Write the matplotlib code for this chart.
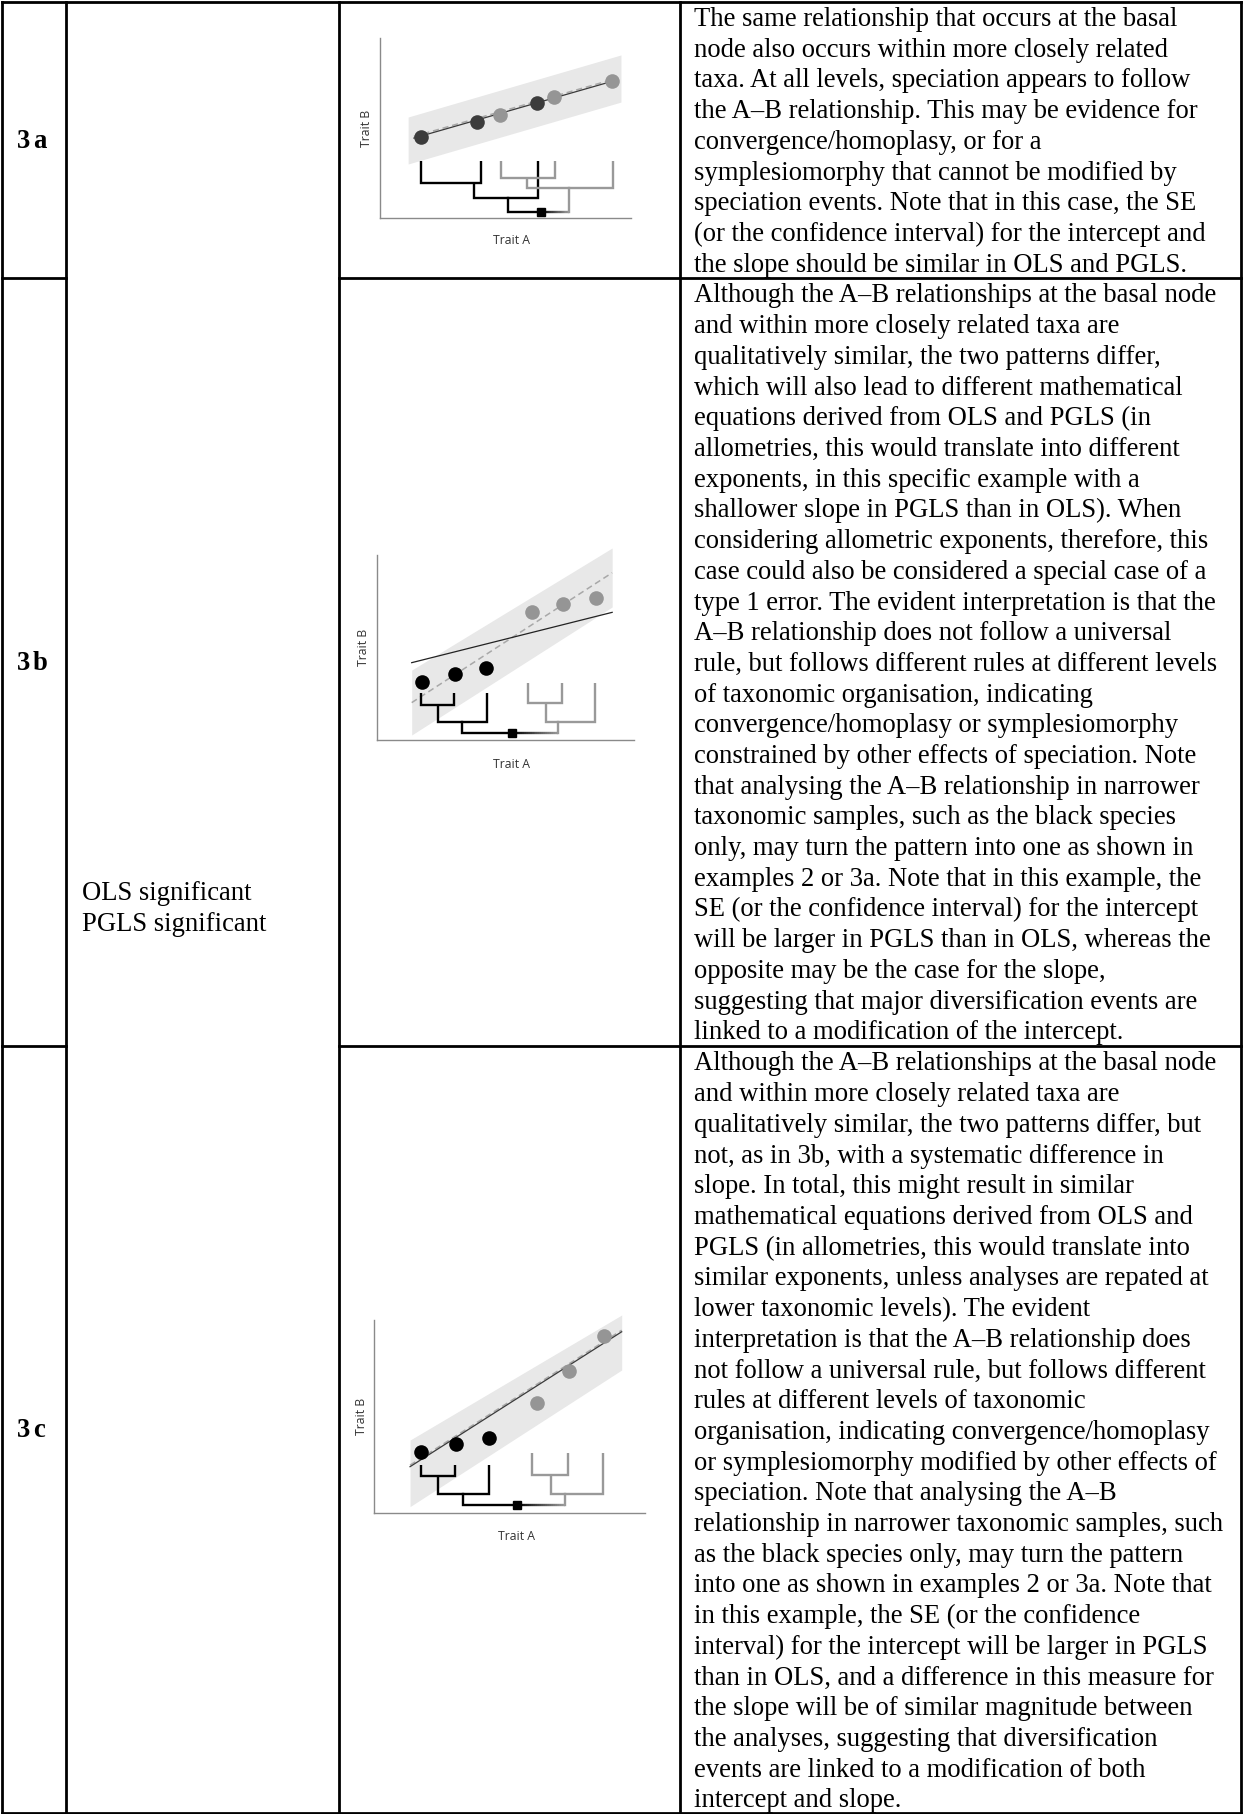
import numpy as np
import matplotlib.pyplot as plt
from matplotlib.collections import LineCollection
from matplotlib.colors import to_rgb

# ---- table text ----
row_labels = [("3", "a"), ("3", "b"), ("3", "c")]
merged_label = ["OLS significant", "PGLS significant"]

text_3a = [
    "The same relationship that occurs at the basal",
    "node also occurs within more closely related",
    "taxa. At all levels, speciation appears to follow",
    "the A\u2013B relationship. This may be evidence for",
    "convergence/homoplasy, or for a",
    "symplesiomorphy that cannot be modified by",
    "speciation events. Note that in this case, the SE",
    "(or the confidence interval) for the intercept and",
    "the slope should be similar in OLS and PGLS.",
]
text_3b = [
    "Although the A\u2013B relationships at the basal node",
    "and within more closely related taxa are",
    "qualitatively similar, the two patterns differ,",
    "which will also lead to different mathematical",
    "equations derived from OLS and PGLS (in",
    "allometries, this would translate into different",
    "exponents, in this specific example with a",
    "shallower slope in PGLS than in OLS). When",
    "considering allometric exponents, therefore, this",
    "case could also be considered a special case of a",
    "type 1 error. The evident interpretation is that the",
    "A\u2013B relationship does not follow a universal",
    "rule, but follows different rules at different levels",
    "of taxonomic organisation, indicating",
    "convergence/homoplasy or symplesiomorphy",
    "constrained by other effects of speciation. Note",
    "that analysing the A\u2013B relationship in narrower",
    "taxonomic samples, such as the black species",
    "only, may turn the pattern into one as shown in",
    "examples 2 or 3a. Note that in this example, the",
    "SE (or the confidence interval) for the intercept",
    "will be larger in PGLS than in OLS, whereas the",
    "opposite may be the case for the slope,",
    "suggesting that major diversification events are",
    "linked to a modification of the intercept.",
]
text_3c = [
    "Although the A\u2013B relationships at the basal node",
    "and within more closely related taxa are",
    "qualitatively similar, the two patterns differ, but",
    "not, as in 3b, with a systematic difference in",
    "slope. In total, this might result in similar",
    "mathematical equations derived from OLS and",
    "PGLS (in allometries, this would translate into",
    "similar exponents, unless analyses are repated at",
    "lower taxonomic levels). The evident",
    "interpretation is that the A\u2013B relationship does",
    "not follow a universal rule, but follows different",
    "rules at different levels of taxonomic",
    "organisation, indicating convergence/homoplasy",
    "or symplesiomorphy modified by other effects of",
    "speciation. Note that analysing the A\u2013B",
    "relationship in narrower taxonomic samples, such",
    "as the black species only, may turn the pattern",
    "into one as shown in examples 2 or 3a. Note that",
    "in this example, the SE (or the confidence",
    "interval) for the intercept will be larger in PGLS",
    "than in OLS, and a difference in this measure for",
    "the slope will be of similar magnitude between",
    "the analyses, suggesting that diversification",
    "events are linked to a modification of both",
    "intercept and slope.",
]

# ---- mini chart data (trait A / trait B, arbitrary 0-10 units) ----
# 3a
a_band_x = [1.12, 9.6]
a_band_lo = [3.0, 6.44]
a_band_hi = [5.61, 9.06]
a_solid_x = [1.35, 9.44]
a_solid_y = [4.44, 7.67]
a_dash_x = [1.35, 9.44]
a_dash_y = [4.53, 7.76]
a_dark_x = [1.63, 3.86, 6.25]
a_dark_y = [4.5, 5.33, 6.39]
a_grey_x = [4.78, 6.93, 9.24]
a_grey_y = [5.72, 6.72, 7.61]
a_tree_dark = [(1.63, 4.02, 1.93, 3.17, 3.17), (3.75, 6.29, 1.11, 1.93, 3.17)]
a_tree_grey = [(4.81, 6.97, 2.24, 3.17, 3.17), (5.86, 9.28, 1.67, 2.24, 3.17)]
a_root = (5.11, 7.53, 0.33, 1.11, 1.67)
a_root_node = 6.41

# 3b
b_band_x = [1.35, 9.15]
b_band_lo = [0.27, 7.19]
b_band_hi = [3.78, 10.38]
b_solid_x = [1.35, 9.15]
b_solid_y = [4.18, 6.9]
b_dash_x = [1.35, 9.15]
b_dash_y = [2.02, 9.04]
b_dark_x = [1.74, 3.03, 4.23]
b_dark_y = [3.15, 3.55, 3.87]
b_grey_x = [6.05, 7.22, 8.53]
b_grey_y = [6.9, 7.33, 7.69]
b_tree_dark = [(1.70, 3.0, 1.89, 2.52, 2.52), (2.37, 4.29, 0.96, 1.89, 2.52)]
b_tree_grey = [(5.89, 7.19, 2.02, 3.06, 3.06), (6.59, 8.48, 0.99, 2.02, 3.06)]
b_root = (3.29, 7.06, 0.36, 0.96, 0.99)
b_root_node = 5.27

# 3c
c_band_x = [1.33, 9.14]
c_band_lo = [0.33, 7.41]
c_band_hi = [3.78, 10.26]
c_solid_x = [1.33, 9.14]
c_solid_y = [2.4, 9.39]
c_dash_x = [1.33, 9.14]
c_dash_y = [2.48, 9.47]
c_dark_x = [1.72, 3.01, 4.24]
c_dark_y = [3.18, 3.56, 3.87]
c_grey_x = [6.0, 7.2, 8.49]
c_grey_y = [5.68, 7.36, 9.19]
c_tree_dark = [(1.72, 2.99, 1.92, 2.49, 2.49), (2.37, 4.24, 0.98, 1.92, 2.49)]
c_tree_grey = [(5.84, 7.16, 1.97, 3.09, 3.09), (6.54, 8.45, 0.98, 1.97, 3.09)]
c_root = (3.3, 7.05, 0.41, 0.98, 0.98)
c_root_node = 5.27

W, H = 1243, 1814
SERIF = ['Liberation Serif', 'DejaVu Serif']
SANS = ['Open Sans', 'DejaVu Sans']
BODY = 19.2

fig = plt.figure(figsize=(W / 100, H / 100), dpi=100)
bg = fig.add_axes([0, 0, 1, 1])
bg.set_xlim(0, W)
bg.set_ylim(H, 0)
bg.axis('off')

# table grid (pixels)
col_x = [2, 66, 339, 680, 1241]
row_y = [1.5, 278, 1046, 1812.5]
grid_kw = dict(color='black', lw=2.0, solid_capstyle='projecting')
for x in col_x:
    bg.plot([x, x], [row_y[0], row_y[-1]], **grid_kw)
bg.plot([col_x[0], col_x[-1]], [row_y[0]] * 2, **grid_kw)
bg.plot([col_x[0], col_x[-1]], [row_y[-1]] * 2, **grid_kw)
for y in row_y[1:-1]:
    bg.plot([col_x[0], col_x[1]], [y, y], **grid_kw)
    bg.plot([col_x[2], col_x[-1]], [y, y], **grid_kw)

# row labels and descriptions
line_h = 30.7
for i, (lab, lines) in enumerate(zip(row_labels, [text_3a, text_3b, text_3c])):
    top, bot = row_y[i], row_y[i + 1]
    # number and letter set with a small gap, as in the original
    bg.text(17, (top + bot) / 2 + 8, lab[0], family=SERIF, fontsize=BODY,
            fontweight='bold', va='baseline', ha='left')
    bg.text(33, (top + bot) / 2 + 8, lab[1], family=SERIF, fontsize=BODY,
            fontweight='bold', va='baseline', ha='left')
    for j, ln in enumerate(lines):
        bg.text(694, top + 24.5 + j * line_h, ln, family=SERIF, fontsize=BODY,
                va='baseline', ha='left')

for j, ln in enumerate(merged_label):
    bg.text(82, 900 + j * line_h, ln, family=SERIF, fontsize=BODY, va='baseline')


def draw_bracket(ax, xl, xr, y, tl, tr, color):
    ax.plot([xl, xl, xr, xr], [tl, y, y, tr], color=color, lw=1.7,
            solid_joinstyle='miter', solid_capstyle='butt', zorder=4)


def draw_panel(box, band_x, band_lo, band_hi, solid_x, solid_y, dash_x, dash_y,
               dark_x, dark_y, grey_x, grey_y, tree_dark, tree_grey, root, node,
               dark_col, solid_col, xlab_pos, ylab_dx):
    x0, y0, x1, y1 = box  # pixel box of the axis lines (y0 = x-axis row)
    ax = fig.add_axes([x0 / W, 1 - y0 / H, (x1 - x0) / W, (y0 - y1) / H])
    ax.set_xlim(0, 10)
    ax.set_ylim(0, 10)
    ax.patch.set_alpha(0)
    for s in ['top', 'right']:
        ax.spines[s].set_visible(False)
    for s in ['left', 'bottom']:
        ax.spines[s].set_color('#8a8a8a')
        ax.spines[s].set_linewidth(1.0)
    ax.set_xticks([])
    ax.set_yticks([])

    ax.fill_between(band_x, band_lo, band_hi, color='#e8e8e8', lw=0,
                    zorder=1, clip_on=False)
    ax.plot(dash_x, dash_y, color='#a8a8a8', lw=1.1, ls=(0, (4, 2.5)), zorder=2,
            clip_on=False)
    ax.plot(solid_x, solid_y, color=solid_col, lw=0.9, zorder=2, clip_on=False)

    for t in tree_dark:
        draw_bracket(ax, *t, color='black')
    for t in tree_grey:
        draw_bracket(ax, *t, color='#999999')
    xl, xr, y, tl, tr = root
    ax.plot([xl, xl, node], [tl, y, y], color='black', lw=1.7,
            solid_joinstyle='miter', zorder=4)
    ax.plot([xr, xr], [y, tr], color='#999999', lw=1.7, zorder=4)
    # root branch fades from the black clade to the grey clade
    gx = np.linspace(node, xr, 25)
    segs = [[(gx[k], y), (gx[k + 1], y)] for k in range(len(gx) - 1)]
    c0, c1 = np.array(to_rgb('black')), np.array(to_rgb('#999999'))
    cols = [c0 + (c1 - c0) * k / (len(segs) - 1) for k in range(len(segs))]
    ax.add_collection(LineCollection(segs, colors=cols, lw=1.7, zorder=4))
    ax.plot([node], [y], marker='s', ms=5.5, color='black', zorder=5, clip_on=False)

    ax.plot(dark_x, dark_y, 'o', ms=10.5, color=dark_col, mec='none', zorder=6,
            clip_on=False)
    ax.plot(grey_x, grey_y, 'o', ms=10.5, color='#959595', mec='none', zorder=6,
            clip_on=False)

    bg.text(xlab_pos[0], xlab_pos[1], 'Trait A', family=SANS, fontsize=8.8,
            color='#333333', ha='center', va='center')
    bg.text(x0 - ylab_dx, (y0 + y1) / 2, 'Trait B', family=SANS, fontsize=8.8,
            color='#333333', ha='center', va='center', rotation=90)
    return ax


draw_panel((380, 218, 631, 38), a_band_x, a_band_lo, a_band_hi, a_solid_x,
           a_solid_y, a_dash_x, a_dash_y, a_dark_x, a_dark_y, a_grey_x, a_grey_y,
           a_tree_dark, a_tree_grey, a_root, a_root_node, '#3c3c3c', '#3a3a3a',
           (512, 241), 13)
draw_panel((377, 740, 634, 555), b_band_x, b_band_lo, b_band_hi, b_solid_x,
           b_solid_y, b_dash_x, b_dash_y, b_dark_x, b_dark_y, b_grey_x, b_grey_y,
           b_tree_dark, b_tree_grey, b_root, b_root_node, 'black', '#222222',
           (512, 764), 13)
draw_panel((374, 1513, 645, 1320), c_band_x, c_band_lo, c_band_hi, c_solid_x,
           c_solid_y, c_dash_x, c_dash_y, c_dark_x, c_dark_y, c_grey_x, c_grey_y,
           c_tree_dark, c_tree_grey, c_root, c_root_node, 'black', '#3a3a3a',
           (517, 1537), 12)

fig.savefig('out.png', dpi=100, facecolor='white')
